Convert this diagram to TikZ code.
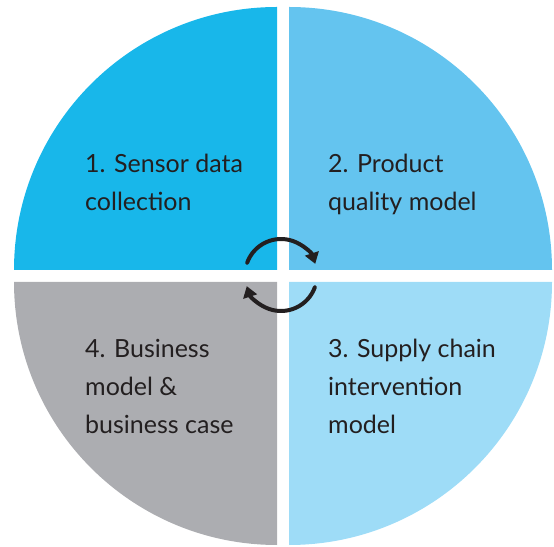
\documentclass[tikz,border=0pt]{standalone}
\usepackage{fontspec}
\setmainfont{Lato}
\usetikzlibrary{arrows.meta}

\definecolor{quadA}{HTML}{18B7EA}
\definecolor{quadB}{HTML}{64C4EF}
\definecolor{quadC}{HTML}{9EDCF7}
\definecolor{quadD}{HTML}{ACADB1}
\definecolor{ink}{HTML}{231F20}

\tikzset{
  label/.style={anchor=base west, align=left, inner sep=0pt, text=ink,
    font=\fontsize{25}{38}\selectfont},
  cyclearrow/.style={ink, line width=4pt, line cap=round,
    -{Triangle[length=11pt,width=14pt]}}
}

\begin{document}
\begin{tikzpicture}[x=1pt,y=1pt]

\useasboundingbox (0,0) rectangle (554,546);
\def\rad{263}

\fill[quadA] (277,276) -- (14,276) arc[start angle=180,end angle=90,radius=\rad] -- cycle;
\fill[quadB] (289,276) -- (289,539) arc[start angle=90,end angle=0,radius=\rad] -- cycle;
\fill[quadC] (289,264) -- (552,264) arc[start angle=0,end angle=-90,radius=\rad] -- cycle;
\fill[quadD] (277,264) -- (277,1) arc[start angle=-90,end angle=-180,radius=\rad] -- cycle;

    % base of a multi-line node sits on its last line
    \node[label] (sensor) at (85,335) {1. Sensor data\\collection};
    \node[label] (quality) at (328,335) {2. Product\\quality model};
    \node[label] (supply) at (328,112) {3. Supply chain\\intervention\\model};
    \node[label] (business) at (85,112) {4. Business\\model \&\\business case};

\coordinate (hub) at (281,271);
\draw[cyclearrow] ([shift={(160:36)}]hub) arc[start angle=160,end angle=18,radius=36];
\draw[cyclearrow] ([shift={(-20:36)}]hub) arc[start angle=-20,end angle=-162,radius=36];

\end{tikzpicture}
\end{document}
